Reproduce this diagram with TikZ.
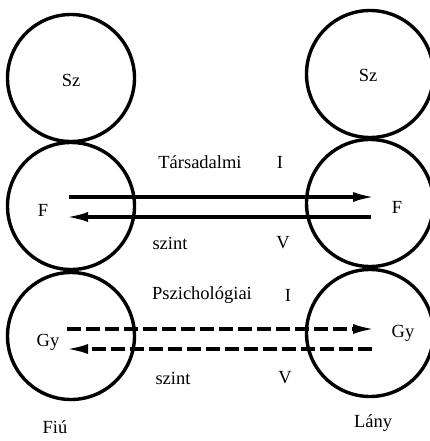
\documentclass[tikz,border=0pt]{standalone}
\usepackage{fontspec}
\setmainfont{Liberation Serif}
\usetikzlibrary{arrows.meta,positioning}

\begin{document}
\begin{tikzpicture}[
  x=1pt, y=-1pt,
  every node/.style={font=\fontsize{18.5}{22}\selectfont, inner sep=1pt},
  ring/.style={draw, circle, line width=3.4pt, minimum size=127pt, inner sep=0pt},
  link/.style={line width=3.4pt, -{Latex[length=22pt,width=10pt]}},
  dlink/.style={link, dash pattern=on 14pt off 5pt}
]
\useasboundingbox (0,0) rectangle (429,441);

% Fiú: three circles
\node[ring] (lsz) at (71,78) {};
\node[ring] (lf) at (71,206) {};
\node[ring] (lgy) at (71,336) {};
% Lány: three circles
\node[ring] (rsz) at (370,74) {};
\node[ring] (rf) at (370,203) {};
\node[ring] (rgy) at (370,333) {};

% circle labels
\node (lszl) at (71,80) {Sz};
\node (lfl) at (43,210) {F};
\node (lgyl) at (48,342) {Gy};
\node (rszl) at (368,75) {Sz};
\node (rfl) at (397,207) {F};
\node (rgyl) at (403,333) {Gy};

% arrow ends
\coordinate (ta) at (69,197);
\coordinate (tb) at (375,197);
\coordinate (tc) at (371,217);
\coordinate (td) at (66,217);
\coordinate (pa) at (67,329);
\coordinate (pb) at (375,329);
\coordinate (pc) at (372,349);
\coordinate (pd) at (66,349);

% social level
\draw[link] (ta) -- (tb);
\draw[link] (tc) -- (td);
\node (tars) at (200,162) {Társadalmi};
\node (ti) at (280,162) {I};
\node (tsz) at (170,243) {szint};
\node (tv) at (283,243) {V};

% psychological level
\draw[dlink] (pa) -- (pb);
\draw[dlink] (pc) -- (pd);
\node (psz) at (202,295) {Pszichológiai};
\node (pi) at (288,295) {I};
\node (psn) at (173,378) {szint};
\node (pv) at (285,378) {V};

% bottom captions
\node (fiu) at (55,427) {Fiú};
\node (lany) at (373,423) {Lány};
\end{tikzpicture}
\end{document}
